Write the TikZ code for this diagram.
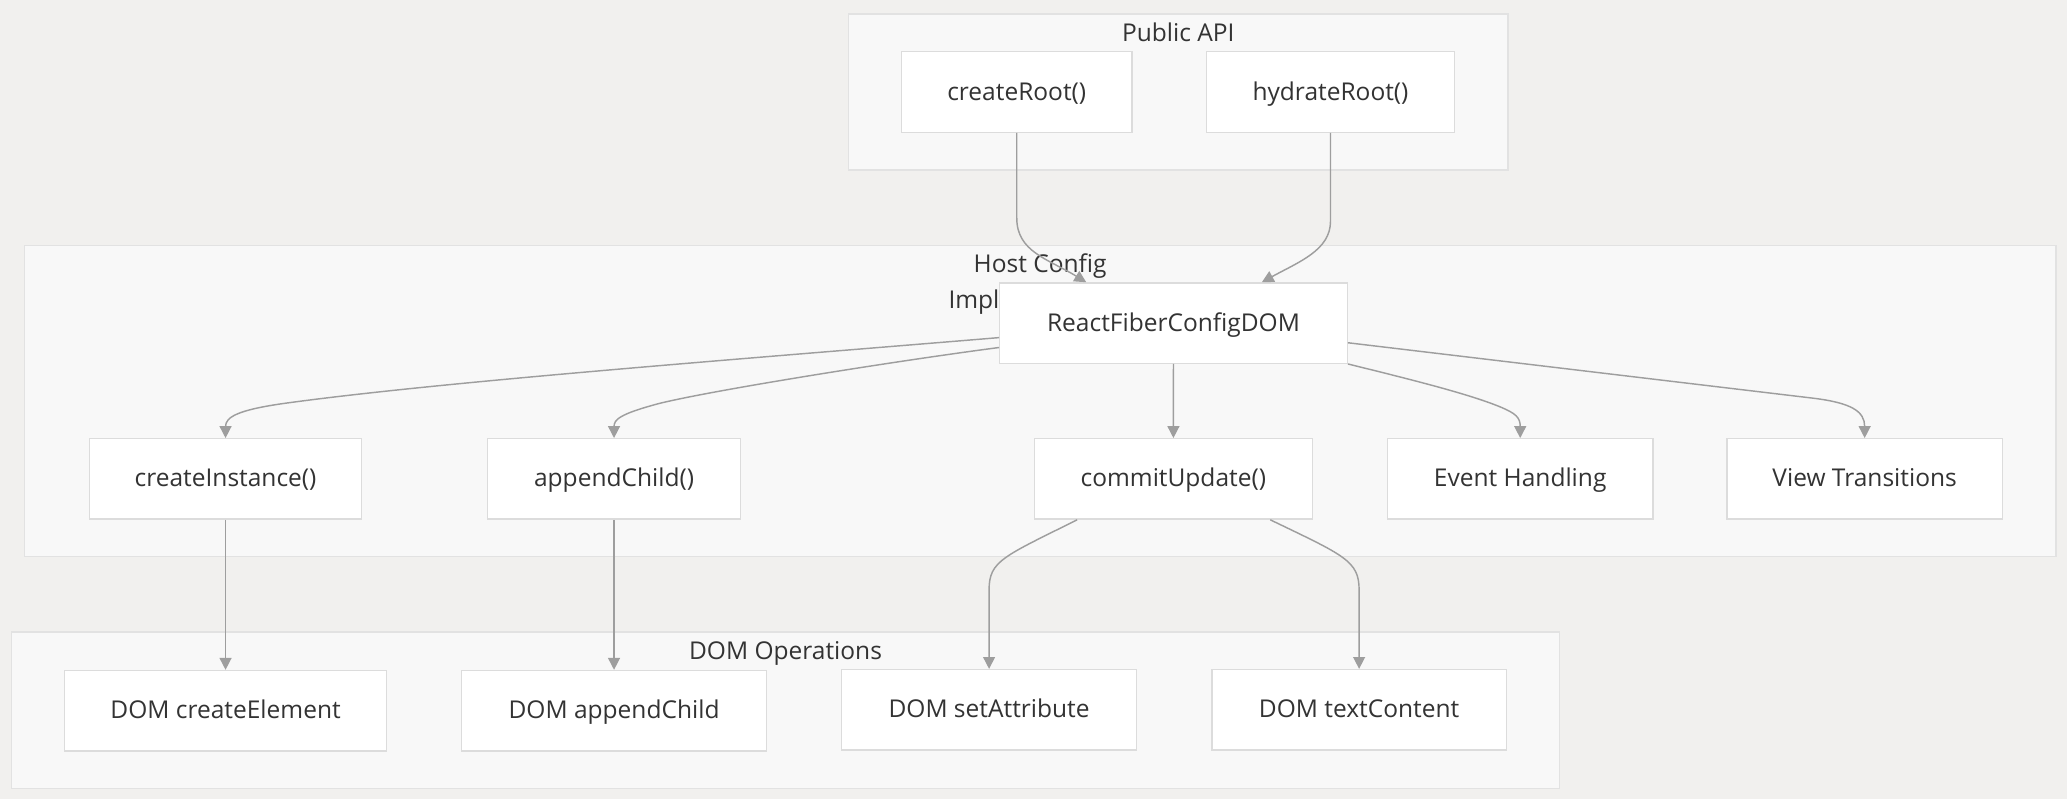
\documentclass[tikz,border=0pt]{standalone}
\usepackage{fontspec}
\setmainfont{Open Sans}
\usetikzlibrary{positioning, fit, calc, backgrounds, arrows.meta}
\definecolor{pagebg}{HTML}{F1F0EE}
\definecolor{grpfill}{HTML}{F8F8F8}
\definecolor{grpline}{HTML}{E2E2E2}
\definecolor{boxline}{HTML}{DCDCDC}
\definecolor{edgecol}{HTML}{9E9E9E}
\definecolor{txtcol}{HTML}{333333}
\tikzset{%
    fitsty/.style={
        draw=grpline,
        fill=grpfill,
        line width=1.2pt,
        inner xsep=40pt,
        inner ysep=28pt,
    },
    nodesty/.style={
        draw=boxline,
        fill=white,
        line width=1pt,
        align=center,
        inner sep=0pt,
        minimum height=61pt,
        text height=16.8pt,
        text depth=4.6pt,
        text=txtcol,
        font=\fontsize{18.6pt}{27.8pt}\selectfont,
    },
    labelsty/.style={
        align=center,
        inner sep=0pt,
        text=txtcol,
        font=\fontsize{18.6pt}{27.8pt}\selectfont,
    },
    edgesty/.style={
        draw=edgecol,
        line width=1.1pt,
        -{Triangle[length=9pt,width=9pt]},
    },
}

\begin{document}
\begin{tikzpicture}[x=1pt,y=-1pt]

\useasboundingbox (0,0) rectangle (1568,606.2);

% public api nodes
\node (croot) [nodesty,minimum width=174.6pt] at (771.3,69.8) {createRoot()};
\node (hroot) [nodesty,minimum width=188.6pt] at (1009.3,69.8) {hydrateRoot()};

% host config nodes
\node (rfcd) [nodesty,minimum width=263.6pt] at (890.2,245.1) {ReactFiberConfigDOM};
\node (cinst) [nodesty,minimum width=206pt] at (171.1,363.3) {createInstance()};
\node (achild) [nodesty,minimum width=191.5pt] at (465.8,363.3) {appendChild()};
\node (cupd) [nodesty,minimum width=211.2pt] at (890.1,363.3) {commitUpdate()};
\node (evh) [nodesty,minimum width=201.4pt] at (1153.2,363.3) {Event Handling};
\node (vtr) [nodesty,minimum width=209pt] at (1414.5,363.3) {View Transitions};

% dom operation nodes
\node (dce) [nodesty,minimum width=244pt,below=113.8pt of cinst] {DOM createElement};
\node (dapp) [nodesty,minimum width=231.7pt,below=113.8pt of achild] {DOM appendChild};
\node (dset) [nodesty,minimum width=223.4pt] at (750.3,538.4) {DOM setAttribute};
\node (dtxt) [nodesty,minimum width=223.3pt] at (1031,538.4) {DOM textContent};

% groups
\begin{scope}[on background layer]
\fill[pagebg] (0,0) rectangle (1568,606.2);
\node (pubapi) [fitsty,fit=(croot) (hroot)] {};
\node (hostcfg) [fitsty,fit={(rfcd) (cupd) (vtr) ([xshift=-9pt]cinst.west)}] {};
\node (domops) [fitsty,fit=(dce) (dtxt)] {};
\node (pubapilbl) [labelsty,below=7pt of pubapi.north] {Public API};
\node (hostcfglbl) [labelsty,below=6.5pt of hostcfg.north] {Host Config\\Implementation};
\node (domopslbl) [labelsty,below=7.5pt of domops.north] {DOM Operations};
\end{scope}

% edges
\draw[edgesty] (croot.south) -- ++(0,64.6) .. controls +(0,25.6) and +(-29,-17.7) .. ([xshift=-66.2pt]rfcd.north);
\draw[edgesty] (hroot.south) -- ++(0,67) .. controls +(0,22) and +(28,-15.4) .. ([xshift=67pt]rfcd.north);
\draw[edgesty] ([yshift=-11pt]rfcd.west) .. controls +(-198,16.4) and +(115,-16) .. ++(-543,50)
    .. controls +(-35,5) and +(0,-15.8) .. (cinst.north);
\draw[edgesty] ([yshift=-18.5pt]rfcd.west) .. controls +(-78,10.2) and +(40,-10) .. ++(-258,42.5)
    .. controls +(-30,8) and +(0,-14) .. (achild.north);
\draw[edgesty] (rfcd) -- (cupd);
\draw[edgesty] (rfcd.south east) .. controls +(52,12.8) and +(-23,-9.5) .. ++(115.6,32.6)
    .. controls +(12,5) and +(0,-15.5) .. (evh.north);
\draw[edgesty] ([yshift=-14.9pt]rfcd.east) -- ++(352.5,42) .. controls +(30,3.6) and +(0,-20) .. (vtr.north);
\draw[edgesty] (cinst) -- (dce);
\draw[edgesty] (achild) -- (dapp);
\draw[edgesty] ([xshift=-73pt]cupd.south) .. controls +(-56,28) and +(0,-22) .. ([yshift=60pt]dset.north) -- (dset);
\draw[edgesty] ([xshift=73.5pt]cupd.south) .. controls +(56,27) and +(0,-22) .. ([yshift=60pt]dtxt.north) -- (dtxt);

\end{tikzpicture}
\end{document}
